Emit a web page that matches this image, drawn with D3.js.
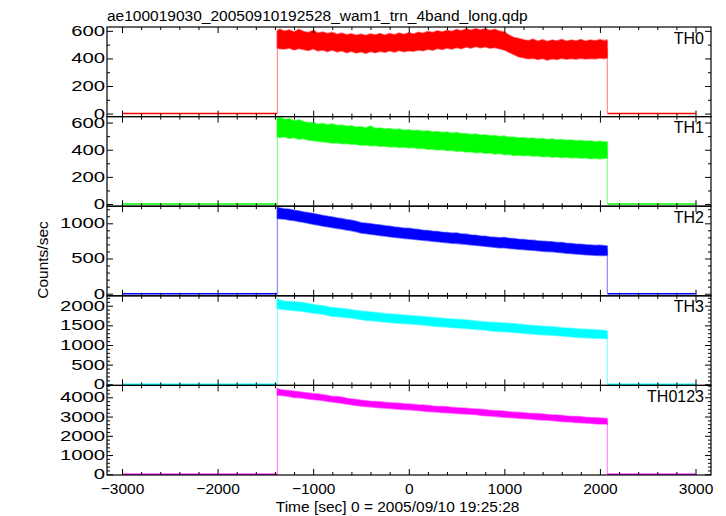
<!DOCTYPE html>
<html><head><meta charset="utf-8">
<script src="https://cdn.jsdelivr.net/npm/d3@7"></script>
<style>body{margin:0;background:#fff} svg{display:block}</style>
</head><body><svg id="c" width="726" height="516"></svg>
<script>
// ---- data ----
const titleText = "ae100019030_20050910192528_wam1_trn_4band_long.qdp";
const xLabelText = "Time [sec] 0 = 2005/09/10 19:25:28";
const yLabelText = "Counts/sec";
const panelNames = ["TH0","TH1","TH2","TH3","TH0123"];
const panelColors = ["#ff0000","#00ff00","#0000ff","#00ffff","#ff00ff"];
const xTicks = [-3000,-2000,-1000,0,1000,2000,3000];
const xDomain = [-3157, 3162];
const yDomains = [[-22,628],[-16,644],[-30,1243],[-28,2252],[-36,4618]];
const yMajorTicks = [[0,200,400,600],[0,200,400,600],[0,500,1000],[0,500,1000,1500,2000],[0,1000,2000,3000,4000]];
const yMinorStep = [100,100,100,100,200];

// quiet (zero) level before / after the observed interval
const baseStart = -3000, riseT = -1375, fallT = 2077, baseEnd = 3000, baseLevel = 0;

// sample times of the band envelope (sec)
const times = [-1375,-1350,-1300,-1250,-1200,-1150,-1100,-1050,-1000,-950,-900,-850,-800,-750,-700,-650,-600,-550,-500,-450,-400,-350,-300,-250,-200,-150,-100,-50,
  0,50,100,150,200,250,300,350,400,450,500,550,600,650,700,750,800,850,900,950,1000,1050,1100,1150,1200,1250,1300,1350,1400,1450,1500,1550,1600,1650,1700,1750,1800,1850,1900,1950,2000,2050,2077];

// upper / lower edges of the noisy band, counts/sec
const th0Hi = [600,612,598,607,592,610,596,588,603,584,592,580,589,575,583,571,579,568,576,566,578,570,581,569,580,572,584,574,
  586,577,590,582,596,588,600,591,604,596,609,600,614,604,616,606,615,603,611,598,592,568,552,545,535,528,540,525,536,522,533,526,538,524,534,527,537,525,533,528,536,529,532];
const th0Lo = [478,470,468,476,462,472,465,458,470,455,462,450,461,448,455,442,452,440,448,437,450,441,452,444,455,446,458,449,
  456,452,461,456,467,460,472,465,476,468,480,470,483,475,486,478,484,474,480,470,462,445,428,412,405,398,402,392,400,388,398,392,401,394,400,395,402,396,400,397,403,399,405];

const th1Hi = [632,640,622,628,612,620,606,598,600,588,594,583,590,578,582,572,576,566,570,560,574,556,560,552,556,548,552,544,
  547,540,543,535,539,531,534,526,530,522,526,517,520,512,515,507,510,502,505,497,500,492,494,486,489,482,486,478,483,475,479,472,475,469,472,465,468,462,465,459,462,456,458];
const th1Lo = [498,490,495,484,490,478,482,470,468,462,458,455,450,452,444,446,440,441,433,436,430,432,425,428,420,423,417,420,
  414,416,409,411,404,406,398,402,394,396,388,391,384,386,378,381,374,377,368,372,364,366,358,362,356,359,352,356,348,352,345,349,342,346,340,343,337,341,334,338,333,337,340];

const th2Hi = [1228,1218,1205,1198,1186,1176,1160,1150,1140,1124,1112,1100,1090,1076,1066,1052,1042,1030,1008,1000,992,982,975,964,958,946,940,930,
  930,918,912,902,898,888,882,872,870,860,862,848,846,834,830,820,816,806,802,794,798,786,782,774,770,762,760,750,746,740,738,728,726,716,712,704,702,694,692,686,688,680,676];
const th2Lo = [1072,1066,1060,1048,1040,1025,1014,1000,988,976,962,950,940,928,918,904,896,882,862,856,846,838,828,820,810,802,795,786,
  782,774,768,760,754,746,740,732,726,718,715,708,703,694,688,680,674,666,660,652,654,644,638,632,628,622,618,610,604,600,598,590,584,576,570,564,560,554,550,546,545,542,548];

const th3Hi = [2170,2140,2112,2108,2096,2090,2072,2052,2030,2012,1998,1972,1950,1940,1928,1912,1898,1880,1862,1850,1840,1826,1812,1798,1788,1780,1770,1760,
  1750,1740,1732,1722,1710,1700,1690,1680,1668,1660,1652,1646,1638,1624,1612,1600,1588,1580,1572,1566,1558,1550,1542,1530,1518,1504,1492,1486,1478,1470,1462,1450,1438,1430,1422,1412,1404,1398,1392,1386,1378,1366,1352];
const th3Lo = [1935,1920,1905,1890,1878,1868,1852,1835,1812,1800,1785,1760,1730,1724,1714,1700,1690,1668,1648,1630,1622,1612,1600,1585,1574,1564,1556,1546,
  1540,1528,1520,1510,1500,1484,1472,1466,1460,1448,1440,1430,1422,1410,1398,1390,1380,1364,1350,1345,1340,1330,1320,1310,1302,1290,1278,1270,1262,1254,1248,1240,1232,1220,1208,1200,1192,1186,1178,1174,1172,1166,1160];

const th0123Hi = [4445,4400,4370,4345,4310,4290,4245,4225,4190,4170,4135,4090,4045,4035,4000,3950,3915,3880,3850,3820,3795,3785,3765,3735,3715,3705,3690,3665,
  3650,3630,3605,3595,3575,3545,3525,3520,3505,3475,3455,3445,3430,3405,3395,3375,3355,3325,3305,3295,3275,3245,3225,3215,3200,3170,3155,3150,3135,3105,3085,3075,3055,3025,3005,3000,2985,2960,2945,2940,2925,2905,2890];
const th0123Lo = [4120,4105,4085,4040,3995,3985,3950,3915,3885,3860,3830,3790,3755,3730,3695,3650,3610,3575,3545,3525,3505,3475,3455,3440,3425,3400,3385,3365,
  3350,3335,3315,3285,3265,3255,3235,3210,3195,3185,3165,3145,3130,3120,3105,3070,3045,3035,3015,2985,2965,2955,2935,2910,2900,2885,2865,2840,2825,2815,2795,2765,2745,2735,2715,2690,2675,2670,2655,2630,2615,2615,2610];

const seriesHi = [th0Hi, th1Hi, th2Hi, th3Hi, th0123Hi];
const seriesLo = [th0Lo, th1Lo, th2Lo, th3Lo, th0123Lo];

// ---- drawing ----
const FONT = "'Liberation Sans', Arial, Helvetica, sans-serif";
const W = 726, H = 516;
const left = 107, right = 711, top0 = 27, panelH = 89.6;
const yLabelStretch = 1.45;

const svg = d3.select("#c");
svg.append("rect").attr("width", W).attr("height", H).attr("fill", "#fff");

const x = d3.scaleLinear().domain(xDomain).range([left, right]);
const xMinor = d3.range(-3000, 3001, 200).filter(v => !xTicks.includes(v));

function styleAxis(g) {
  g.select(".domain").remove();
  g.selectAll(".tick line").attr("stroke", "#000").attr("stroke-width", 1);
  g.selectAll(".tick text").attr("fill", "#000").style("font-family", FONT);
}

panelNames.forEach((name, i) => {
  const t = top0 + i * panelH, b = t + panelH;
  const y = d3.scaleLinear().domain(yDomains[i]).range([b, t]);
  const color = panelColors[i];
  const hi = seriesHi[i], lo = seriesLo[i];
  const g = svg.append("g");

  const line = d3.line().x(d => x(d[0])).y(d => y(d[1]));
  // quiet level before and after
  g.append("path").attr("d", line([[baseStart, baseLevel], [riseT, baseLevel]]))
    .attr("fill", "none").attr("stroke", color).attr("stroke-width", 1.5);
  g.append("path").attr("d", line([[fallT + 3, baseLevel], [baseEnd, baseLevel]]))
    .attr("fill", "none").attr("stroke", color).attr("stroke-width", 1.5);
  // rise and fall edges
  g.append("path").attr("d", line([[riseT, baseLevel], [riseT, hi[0]]]))
    .attr("fill", "none").attr("stroke", color).attr("stroke-width", 1).attr("opacity", 0.55);
  g.append("path").attr("d", line([[fallT, (hi[hi.length-1] + lo[lo.length-1]) / 2], [fallT, baseLevel]]))
    .attr("fill", "none").attr("stroke", color).attr("stroke-width", 1).attr("opacity", 0.55);

  // noisy band
  const pts = times.map((tt, k) => ({t: tt, hi: hi[k], lo: lo[k]}));
  const area = d3.area().x(d => x(d.t)).y0(d => y(d.lo)).y1(d => y(d.hi));
  g.append("path").attr("d", area(pts)).attr("fill", color)
    .attr("stroke", color).attr("stroke-opacity", 0.5).attr("stroke-width", 1.6).attr("stroke-linejoin", "miter");

  // axes
  const yMinor = d3.range(0, yDomains[i][1], yMinorStep[i]).filter(v => !yMajorTicks[i].includes(v));
  const gl = g.append("g").attr("transform", `translate(${left},0)`)
    .call(d3.axisLeft(y).tickValues(yMajorTicks[i]).tickSize(-6).tickPadding(2).tickFormat(d3.format("d")));
  styleAxis(gl);
  gl.selectAll(".tick text").attr("font-size", 14)
    .attr("x", -2 / yLabelStretch).attr("transform", `scale(${yLabelStretch},1)`);
  styleAxis(g.append("g").attr("transform", `translate(${left},0)`)
    .call(d3.axisLeft(y).tickValues(yMinor).tickSize(-3).tickFormat("")));
  styleAxis(g.append("g").attr("transform", `translate(${right},0)`)
    .call(d3.axisRight(y).tickValues(yMajorTicks[i]).tickSize(-6).tickFormat("")));
  styleAxis(g.append("g").attr("transform", `translate(${right},0)`)
    .call(d3.axisRight(y).tickValues(yMinor).tickSize(-3).tickFormat("")));

  styleAxis(g.append("g").attr("transform", `translate(0,${t})`)
    .call(d3.axisTop(x).tickValues(xTicks).tickSize(-6).tickFormat("")));
  styleAxis(g.append("g").attr("transform", `translate(0,${t})`)
    .call(d3.axisTop(x).tickValues(xMinor).tickSize(-3).tickFormat("")));
  const gb = g.append("g").attr("transform", `translate(0,${b})`)
    .call(d3.axisBottom(x).tickValues(xTicks).tickSize(-6).tickPadding(8)
      .tickFormat(i === panelNames.length - 1 ? d3.format("d") : ""));
  styleAxis(gb);
  gb.selectAll(".tick text").attr("font-size", 15.5);
  styleAxis(g.append("g").attr("transform", `translate(0,${b})`)
    .call(d3.axisBottom(x).tickValues(xMinor).tickSize(-3).tickFormat("")));

  // frame
  g.append("rect").attr("x", left).attr("y", t).attr("width", right - left).attr("height", panelH)
    .attr("fill", "none").attr("stroke", "#000").attr("stroke-width", 1.2);

  // panel name
  g.append("text").attr("x", right - 7).attr("y", t + 16.5).attr("text-anchor", "end")
    .style("font-family", FONT).attr("font-size", 16).attr("fill", "#000").text(name);
});

svg.append("text").attr("x", left).attr("y", 20.5).style("font-family", FONT)
  .attr("font-size", 15.5).attr("fill", "#000").text(titleText);
svg.append("text").attr("x", 397.6).attr("y", 512).attr("text-anchor", "middle")
  .style("font-family", FONT).attr("font-size", 15.5).attr("fill", "#000").text(xLabelText);
svg.append("text").attr("transform", "translate(47.5,260) rotate(-90)").attr("text-anchor", "middle")
  .style("font-family", FONT).attr("font-size", 15.5).attr("fill", "#000").text(yLabelText);
</script></body></html>
